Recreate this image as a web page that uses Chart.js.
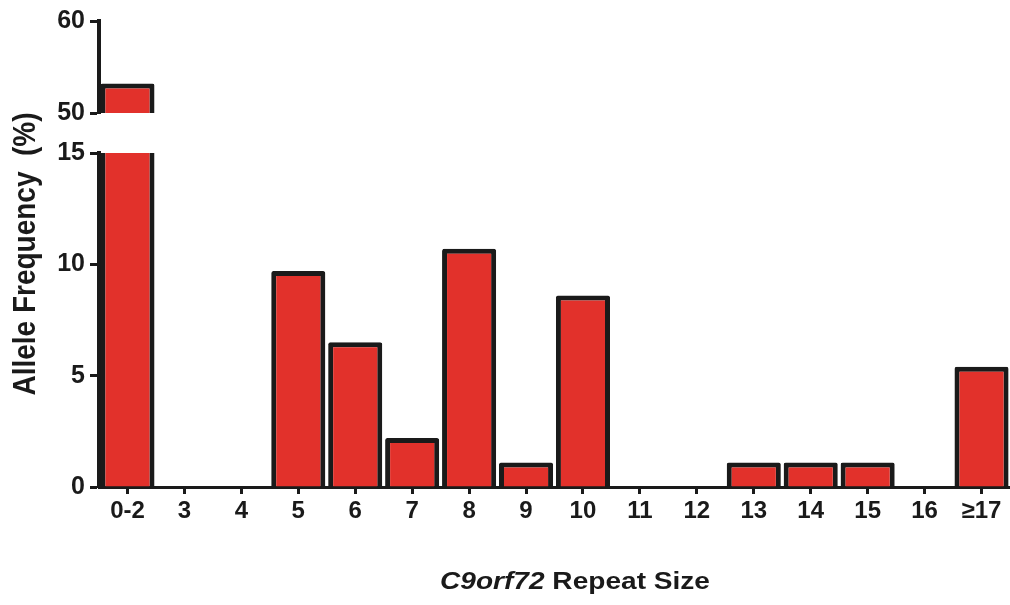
<!DOCTYPE html>
<html>
<head>
<meta charset="utf-8">
<script src="https://cdn.jsdelivr.net/npm/chart.js@4.4.1/dist/chart.umd.min.js"></script>
<style>
  body { margin: 0; background: #fff; }
  #wrap { width: 1010px; height: 605px; position: relative; }
</style>
</head>
<body>
<div id="wrap"><canvas id="freqChart"></canvas></div>
<script>
// repeat size categories and allele frequency (%)
const repeatSizes = ['0-2', '3', '4', '5', '6', '7', '8', '9', '10', '11', '12', '13', '14', '15', '16', '≥17'];
const alleleFreq = [53.2, 0, 0, 9.7, 6.5, 2.2, 10.7, 1.1, 8.6, 0, 0, 1.1, 1.1, 1.1, 0, 5.4];
const upperTicks = [50, 60];
const lowerTicks = [0, 5, 10, 15];

const FONT = "'Liberation Sans', Arial, Helvetica, sans-serif";
const INK = '#1a1a1a';
const RED = '#e2312b';

// titles are drawn by hand: x title mixes italic and upright text
const titlePlugin = {
  id: 'titles',
  afterDraw(chart) {
    const ctx = chart.ctx;
    ctx.save();
    ctx.fillStyle = INK;
    ctx.textBaseline = 'middle';

    // y title, centered on the whole plot height
    ctx.save();
    ctx.translate(27, 254);
    ctx.rotate(-Math.PI / 2);
    ctx.scale(1, 1.1);
    ctx.font = 'bold 28px ' + FONT;
    ctx.textAlign = 'center';
    ctx.fillText('Allele Frequency  (%)', 0, 0);
    ctx.restore();

    // x title
    const part1 = 'C9orf72';
    const part2 = ' Repeat Size';
    ctx.save();
    ctx.translate(575, 582);
    ctx.scale(1.17, 1);
    ctx.font = 'italic bold 24px ' + FONT;
    const w1 = ctx.measureText(part1).width;
    ctx.font = 'bold 24px ' + FONT;
    const w2 = ctx.measureText(part2).width;
    let x = -(w1 + w2) / 2;
    ctx.textAlign = 'left';
    ctx.font = 'italic bold 24px ' + FONT;
    ctx.fillText(part1, x, 0);
    ctx.font = 'bold 24px ' + FONT;
    ctx.fillText(part2, x + w1, 0);
    ctx.restore();

    ctx.restore();
  }
};

function yAxis(ticks, weight) {
  return {
    type: 'linear',
    position: 'left',
    stack: 'freq',
    stackWeight: weight,
    min: ticks[0],
    max: ticks[ticks.length - 1],
    afterBuildTicks: (scale) => { scale.ticks = ticks.map(v => ({ value: v })); },
    afterFit: (scale) => { scale.width = 99; },
    border: { display: true, color: INK, width: 4 },
    grid: { display: true, drawOnChartArea: false, drawTicks: true, tickLength: 9, tickWidth: 3, tickColor: INK },
    ticks: { color: INK, padding: 5, font: { family: FONT, size: 25, weight: 'bold' } }
  };
}

const ctx = document.getElementById('freqChart').getContext('2d');
new Chart(ctx, {
  type: 'bar',
  data: {
    labels: repeatSizes,
    datasets: [
      {
        label: 'upper',
        data: alleleFreq,
        yAxisID: 'yTop',
        backgroundColor: RED,
        borderColor: INK,
        borderWidth: 5,
        borderRadius: 2,
        borderSkipped: 'start'
      },
      {
        label: 'lower',
        data: alleleFreq,
        yAxisID: 'y',
        backgroundColor: RED,
        borderColor: INK,
        borderWidth: 5,
        borderRadius: 2,
        borderSkipped: 'start'
      }
    ]
  },
  options: {
    responsive: true,
    maintainAspectRatio: false,
    animation: false,
    layout: { padding: { top: 21, right: 0, left: 0, bottom: 0 } },
    datasets: { bar: { grouped: false, categoryPercentage: 1, barPercentage: 0.95 } },
    plugins: {
      legend: { display: false },
      tooltip: { enabled: false }
    },
    scales: {
      x: {
        type: 'category',
        afterFit: (scale) => { scale.height = 118; },
        border: { display: true, color: INK, width: 3 },
        grid: { display: true, offset: false, drawOnChartArea: false, drawTicks: true, tickLength: 7, tickWidth: 3, tickColor: INK },
        ticks: { color: INK, padding: 3, maxRotation: 0, autoSkip: false, font: { family: FONT, size: 24, weight: 'bold' } }
      },
      // stacked left axes are laid out bottom-up, so the lower segment comes first
      y: yAxis(lowerTicks, 334),
      yGap: {
        type: 'linear',
        position: 'left',
        stack: 'freq',
        stackWeight: 40,
        min: 0,
        max: 1,
        afterFit: (scale) => { scale.width = 99; },
        border: { display: false },
        grid: { display: false },
        ticks: { display: false }
      },
      yTop: yAxis(upperTicks, 92)
    }
  },
  plugins: [titlePlugin]
});
</script>
</body>
</html>
